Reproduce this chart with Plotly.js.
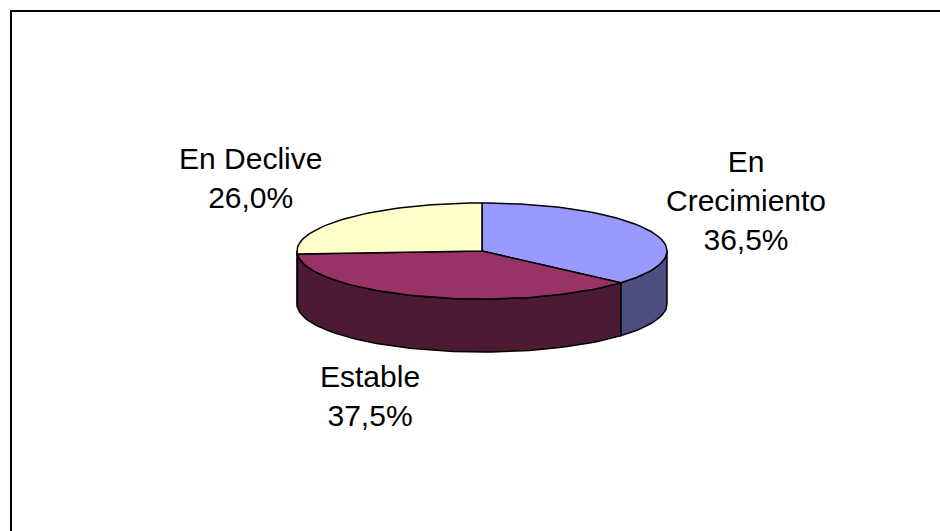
<!DOCTYPE html>
<html>
<head>
<meta charset="utf-8">
<script src="https://cdn.plot.ly/plotly-3.0.1.min.js"></script>
<style>body{margin:0;background:#fff}#chart{width:940px;height:531px}</style>
</head>
<body>
<div id="chart"></div>
<script>
var categories = ['En Crecimiento', 'Estable', 'En Declive'];
var shares = [36.5, 37.5, 26.0];
var labelText = ['En<br>Crecimiento', 'Estable', 'En Declive'];
var topColors = ['#9999FF', '#993366', '#FFFFCC'];
var sideColors = ['#4D4D80', '#4D1A33', '#80806A'];
var labelPos = [[746, 200], [370, 396], [250, 178]];

// 3d pie geometry, in pixels of the page (axes map 1:1)
var cx = 482, cy = 251, rx = 185, ry = 48, depth = 53;

function pt(deg, dy) {
  var r = deg * Math.PI / 180;
  return [cx + rx * Math.sin(r), cy - ry * Math.cos(r) + (dy || 0)];
}
function arc(a, b, dy) {
  var pts = [];
  var n = Math.max(2, Math.ceil(Math.abs(b - a) / 2));
  for (var i = 0; i <= n; i++) pts.push(pt(a + (b - a) * i / n, dy));
  return pts;
}
function poly(pts, fill) {
  return {
    type: 'scatter', mode: 'lines', fill: 'toself', fillcolor: fill,
    x: pts.map(function(p) { return p[0]; }),
    y: pts.map(function(p) { return p[1]; }),
    line: {color: '#000', width: 1.5},
    hoverinfo: 'skip', showlegend: false
  };
}

var total = shares.reduce(function(s, v) { return s + v; }, 0);
var starts = [], ends = [], acc = 0;
shares.forEach(function(v) {
  starts.push(acc / total * 360);
  acc += v;
  ends.push(acc / total * 360);
});

var walls = [], tops = [];
for (var i = 0; i < shares.length; i++) {
  // only the front half of the side is visible
  var a = Math.max(starts[i], 90), b = Math.min(ends[i], 270);
  if (b > a) {
    var w = arc(a, b, 0).concat(arc(b, a, depth));
    w.push(w[0]);
    walls.push(poly(w, sideColors[i]));
  }
  var t = [[cx, cy]].concat(arc(starts[i], ends[i], 0));
  t.push([cx, cy]);
  tops.push(poly(t, topColors[i]));
}

var annotations = categories.map(function(c, i) {
  return {
    x: labelPos[i][0], y: labelPos[i][1], xref: 'x', yref: 'y',
    text: labelText[i] + '<br>' + shares[i].toFixed(1).replace('.', ',') + '%',
    showarrow: false, xanchor: 'center', yanchor: 'middle',
    font: {family: 'Liberation Sans, Arial, sans-serif', size: 30, color: '#000'}
  };
});

var layout = {
  width: 940, height: 531,
  margin: {l: 0, r: 0, t: 0, b: 0},
  paper_bgcolor: '#fff', plot_bgcolor: '#fff',
  xaxis: {range: [0, 940], visible: false, fixedrange: true},
  yaxis: {range: [531, 0], visible: false, fixedrange: true},
  annotations: annotations,
  shapes: [{type: 'rect', xref: 'x', yref: 'y', x0: 11, y0: 11, x1: 980, y1: 580,
            line: {color: '#000', width: 2}}]
};

Plotly.newPlot('chart', walls.concat(tops), layout, {staticPlot: true, displayModeBar: false});
</script>
</body>
</html>
